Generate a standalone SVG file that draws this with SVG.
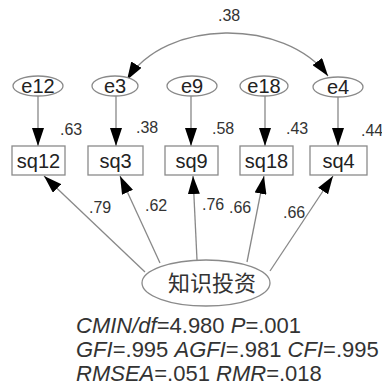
<svg xmlns="http://www.w3.org/2000/svg" width="382" height="390" viewBox="0 0 382 390">
<style>
.n{fill:#fff;stroke:#8a8a8a;stroke-width:1.3}
.lbl{font-family:"Liberation Sans",Arial,sans-serif;font-size:20px;fill:#222;text-anchor:middle}
.num{font-family:"Liberation Sans",Arial,sans-serif;font-size:16px;fill:#333}
.cn{font-family:"Noto Sans CJK SC",serif;font-size:22px;fill:#333;text-anchor:middle}
.fit{font-family:"Liberation Sans",Arial,sans-serif;font-size:22px;fill:#333}
.c{fill:none;stroke:#888;stroke-width:1.3}
</style>
<defs>
<marker id="ah" markerUnits="userSpaceOnUse" markerWidth="18" markerHeight="12" refX="18" refY="6" orient="auto-start-reverse">
<path d="M0,0 L18,6 L0,12 Z" fill="#000"/>
</marker>
</defs>
<g id="connectors">
<path class="c" d="M127,80 C165,18 285,18 328,76" marker-start="url(#ah)" marker-end="url(#ah)"/>
<line class="c" x1="38" y1="96" x2="38" y2="146" marker-end="url(#ah)"/>
<line class="c" x1="116" y1="96" x2="116" y2="146" marker-end="url(#ah)"/>
<line class="c" x1="191" y1="96" x2="191" y2="146" marker-end="url(#ah)"/>
<line class="c" x1="265" y1="96" x2="265" y2="146" marker-end="url(#ah)"/>
<line class="c" x1="338" y1="97" x2="338" y2="146" marker-end="url(#ah)"/>
<line class="c" x1="145" y1="272" x2="44" y2="176" marker-end="url(#ah)"/>
<line class="c" x1="160" y1="263" x2="120" y2="176" marker-end="url(#ah)"/>
<line class="c" x1="197" y1="260" x2="193" y2="176" marker-end="url(#ah)"/>
<line class="c" x1="247" y1="262" x2="264" y2="176" marker-end="url(#ah)"/>
<line class="c" x1="270" y1="271" x2="333" y2="176" marker-end="url(#ah)"/>
</g>
<g id="e12"><ellipse class="n" cx="38" cy="86" rx="25" ry="10"/><text class="lbl" x="38" y="93">e12</text></g>
<g id="e3"><ellipse class="n" cx="115" cy="86" rx="23" ry="10"/><text class="lbl" x="115" y="93">e3</text></g>
<g id="e9"><ellipse class="n" cx="192" cy="86" rx="25" ry="10"/><text class="lbl" x="192" y="93">e9</text></g>
<g id="e18"><ellipse class="n" cx="264" cy="86" rx="24" ry="10"/><text class="lbl" x="264" y="93">e18</text></g>
<g id="e4"><ellipse class="n" cx="338" cy="87" rx="25" ry="10"/><text class="lbl" x="338" y="94">e4</text></g>
<g id="sq12"><rect class="n" x="12" y="146" width="53" height="29"/><text class="lbl" x="38.5" y="168">sq12</text></g>
<g id="sq3"><rect class="n" x="88" y="146" width="55" height="29"/><text class="lbl" x="115.5" y="168">sq3</text></g>
<g id="sq9"><rect class="n" x="165" y="146" width="53" height="29"/><text class="lbl" x="191.5" y="168">sq9</text></g>
<g id="sq18"><rect class="n" x="240" y="146" width="53" height="29"/><text class="lbl" x="266.5" y="168">sq18</text></g>
<g id="sq4"><rect class="n" x="310" y="146" width="57" height="29"/><text class="lbl" x="338.5" y="168">sq4</text></g>
<g id="zhishi"><ellipse class="n" cx="206" cy="283" rx="64" ry="23"/><text class="cn" x="212" y="291">知识投资</text></g>
<g id="labels">
<text class="num" x="218" y="21">.38</text>
<text class="num" x="60" y="135">.63</text>
<text class="num" x="136" y="133">.38</text>
<text class="num" x="212" y="134">.58</text>
<text class="num" x="286" y="134">.43</text>
<text class="num" x="361" y="136">.44</text>
<text class="num" x="89" y="213">.79</text>
<text class="num" x="145" y="211">.62</text>
<text class="num" x="202" y="210">.76</text>
<text class="num" x="229" y="213">.66</text>
<text class="num" x="283" y="218">.66</text>
</g>
<g id="fit">
<text class="fit" x="76" y="333"><tspan font-style="italic">CMIN/df</tspan>=4.980 <tspan font-style="italic">P</tspan>=.001</text>
<text class="fit" x="76" y="357"><tspan font-style="italic">GFI</tspan>=.995 <tspan font-style="italic">AGFI</tspan>=.981 <tspan font-style="italic">CFI</tspan>=.995</text>
<text class="fit" x="76" y="381"><tspan font-style="italic">RMSEA</tspan>=.051 <tspan font-style="italic">RMR</tspan>=.018</text>
</g>
</svg>
